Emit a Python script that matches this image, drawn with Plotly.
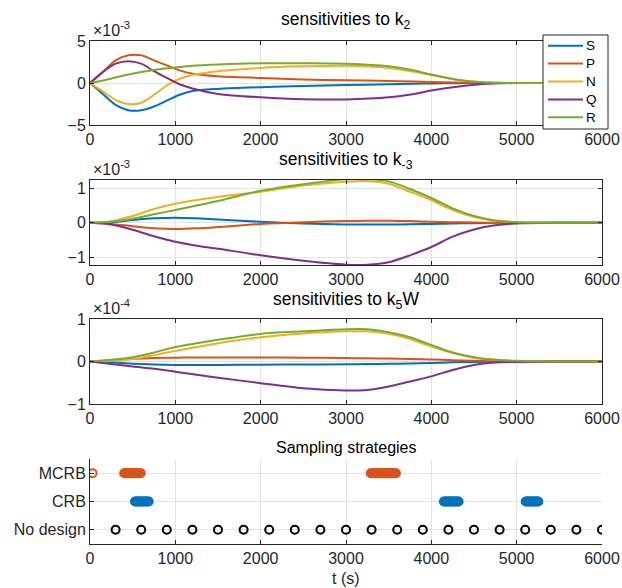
import plotly.graph_objects as go

W, H = 622, 588

# ---------------- data ----------------
series_names = ["S", "P", "N", "Q", "R"]
colors = ["#0072BD", "#D95319", "#EDB120", "#7E2F8E", "#77AC30"]

# panel 1: sensitivities to k2 (x 1e-3)
t1 = [0, 150, 300, 450, 600, 750, 900, 1050, 1200, 1500, 2000, 2500, 3000, 3500, 3800, 4000, 4300, 4600, 5000, 5500, 6000]
S1 = [0, -1.3, -2.6, -3.25, -3.25, -2.8, -2.1, -1.4, -0.95, -0.7, -0.5, -0.36, -0.25, -0.15, -0.09, -0.06, -0.02, 0, 0, 0, 0]
P1 = [0, 1.3, 2.7, 3.3, 3.3, 2.7, 2.1, 1.5, 1.1, 0.8, 0.6, 0.42, 0.33, 0.25, 0.18, 0.13, 0.06, 0.02, 0, 0, 0]
N1 = [0, -1.0, -2.0, -2.5, -2.35, -1.4, -0.3, 0.5, 0.95, 1.4, 1.8, 1.98, 2.05, 1.8, 1.35, 0.95, 0.38, 0.08, 0, 0, 0]
Q1 = [0, 1.3, 2.3, 2.6, 2.3, 1.4, 0.6, -0.15, -0.65, -1.3, -1.7, -1.93, -1.95, -1.7, -1.3, -0.9, -0.45, -0.12, 0, 0, 0]
R1 = [0, 0.3, 0.65, 1.0, 1.3, 1.55, 1.75, 1.9, 2.05, 2.2, 2.35, 2.35, 2.3, 2.0, 1.5, 1.0, 0.4, 0.1, 0, 0, 0]

# panels 2 and 3 time grid
t2 = [0, 250, 500, 750, 1000, 1250, 1500, 2000, 2500, 3000, 3250, 3500, 3750, 4000, 4250, 4500, 4750, 5000, 5500, 6000]

# panel 2: sensitivities to k-3 (x 1e-3)
S2 = [0, 0.02, 0.08, 0.13, 0.15, 0.13, 0.1, 0.03, -0.02, -0.05, -0.05, -0.05, -0.04, -0.03, -0.02, -0.01, 0, 0, 0, 0]
P2 = [0, -0.03, -0.1, -0.16, -0.18, -0.16, -0.12, -0.03, 0.02, 0.05, 0.06, 0.06, 0.05, 0.03, 0.02, 0.01, 0, 0, 0, 0]
N2 = [0, 0.05, 0.2, 0.4, 0.55, 0.66, 0.75, 0.9, 1.08, 1.19, 1.21, 1.13, 0.9, 0.66, 0.37, 0.17, 0.06, 0.02, 0, 0]
Q2 = [0, -0.05, -0.2, -0.39, -0.55, -0.66, -0.75, -0.94, -1.1, -1.21, -1.21, -1.14, -0.94, -0.7, -0.4, -0.19, -0.07, -0.02, 0, 0]
R2 = [0, 0.03, 0.12, 0.25, 0.37, 0.5, 0.63, 0.93, 1.12, 1.26, 1.27, 1.2, 0.98, 0.72, 0.42, 0.2, 0.07, 0.02, 0, 0]

# panel 3: sensitivities to k5W (x 1e-4)
S3 = [0, -0.02, -0.05, -0.07, -0.08, -0.08, -0.08, -0.075, -0.07, -0.065, -0.06, -0.055, -0.045, -0.035, -0.02, -0.01, -0.005, 0, 0, 0]
P3 = [0, 0.03, 0.06, 0.08, 0.09, 0.095, 0.095, 0.095, 0.09, 0.08, 0.075, 0.07, 0.06, 0.05, 0.03, 0.02, 0.01, 0, 0, 0]
N3 = [0, 0.02, 0.06, 0.15, 0.25, 0.34, 0.43, 0.57, 0.66, 0.71, 0.71, 0.65, 0.53, 0.35, 0.2, 0.09, 0.04, 0.01, 0, 0]
Q3 = [0, -0.06, -0.12, -0.17, -0.24, -0.31, -0.38, -0.51, -0.63, -0.68, -0.67, -0.59, -0.47, -0.35, -0.2, -0.08, -0.025, -0.01, 0, 0]
R3 = [0, 0.04, 0.1, 0.21, 0.34, 0.43, 0.51, 0.65, 0.71, 0.76, 0.76, 0.69, 0.57, 0.39, 0.21, 0.1, 0.04, 0.015, 0, 0]

# panel 4: sampling strategies
strategy_labels = ["No design", "CRB", "MCRB"]
mcrb_t = [30,
          400, 415, 430, 445, 460, 475, 490, 505, 520, 535, 550, 565, 580, 595,
          3290, 3305, 3320, 3335, 3350, 3365, 3380, 3395, 3410, 3425, 3440, 3455,
          3470, 3485, 3500, 3515, 3530, 3545, 3560, 3575, 3586]
crb_t = [527, 540, 555, 570, 585, 600, 615, 630, 645, 660, 675, 688,
         4147, 4160, 4175, 4190, 4205, 4220, 4235, 4250, 4265, 4280, 4295, 4310, 4320,
         5106, 5120, 5135, 5150, 5165, 5180, 5195, 5210, 5225, 5240, 5254]
nodesign_t = [300, 600, 900, 1200, 1500, 1800, 2100, 2400, 2700, 3000, 3300, 3600,
              3900, 4200, 4500, 4800, 5100, 5400, 5700, 6000]

x_ticks = [0, 1000, 2000, 3000, 4000, 5000, 6000]

# ---------------- figure ----------------
FONT = "Liberation Sans, Arial, Helvetica, sans-serif"
AX = "#262626"
GRID = "#e3e3e3"
TICK_SIZE = 16
TITLE_SIZE = 17.5
TITLE4_SIZE = 16

fig = go.Figure()

panels = [
    (t1, [S1, P1, N1, Q1, R1], "x", "y"),
    (t2, [S2, P2, N2, Q2, R2], "x2", "y2"),
    (t2, [S3, P3, N3, Q3, R3], "x3", "y3"),
]
for pi, (tt, ser, xa, ya) in enumerate(panels):
    for name, col, vals in zip(series_names, colors, ser):
        fig.add_trace(go.Scatter(
            x=tt, y=vals, mode="lines", name=name,
            line=dict(color=col, width=2, shape="spline", smoothing=0.8),
            xaxis=xa, yaxis=ya, showlegend=False))

for tt, lvl, col in [(nodesign_t, 1, "black"), (crb_t, 2, colors[0]), (mcrb_t, 3, colors[1])]:
    fig.add_trace(go.Scatter(x=tt, y=[lvl] * len(tt), mode="markers",
                             marker=dict(symbol="circle-open", size=8, color=col, line=dict(width=2)),
                             xaxis="x4", yaxis="y4", showlegend=False))

xdom = [90 / W, 602 / W]


def ydom(top, bot):
    return [1 - bot / H, 1 - top / H]


tickfont = dict(family=FONT, size=TICK_SIZE, color=AX)


def xax(anchor, mirror=True):
    return dict(domain=xdom, anchor=anchor, range=[0, 6000], tickvals=x_ticks,
                ticks="inside", ticklen=4, tickcolor=AX, showline=True, linecolor=AX,
                linewidth=1, mirror="ticks" if mirror else False, showgrid=True,
                gridcolor=GRID, zeroline=False, tickfont=tickfont, automargin=False)


def yax(anchor, dom, rng, tv, mirror=True):
    return dict(domain=dom, anchor=anchor, range=rng, tickvals=tv,
                ticks="inside", ticklen=4, tickcolor=AX, showline=True, linecolor=AX,
                linewidth=1, mirror="ticks" if mirror else False, showgrid=True,
                gridcolor=GRID, zeroline=False, tickfont=tickfont, automargin=False)


fig.update_layout(
    width=W, height=H, autosize=False,
    margin=dict(l=0, r=0, t=0, b=0),
    paper_bgcolor="white", plot_bgcolor="white",
    font=dict(family=FONT, size=TICK_SIZE, color=AX),
    xaxis=xax("y"),
    yaxis=yax("x", ydom(41, 125), [-5, 5], [-5, 0, 5]),
    xaxis2=xax("y2"),
    yaxis2=yax("x2", ydom(180, 265), [-1.22, 1.24], [-1, 0, 1]),
    xaxis3=xax("y3"),
    yaxis3=yax("x3", ydom(319, 404), [-1, 1], [-1, 0, 1]),
    xaxis4=xax("y4", mirror=False),
    yaxis4=dict(domain=ydom(459, 544), anchor="x4", range=[0.5, 3.5], tickvals=[1, 2, 3],
                ticktext=strategy_labels, ticks="inside", ticklen=4, tickcolor=AX,
                showline=True, linecolor=AX, linewidth=1, mirror=False, showgrid=True,
                gridcolor=GRID, zeroline=False, tickfont=tickfont, automargin=False),
    showlegend=False,
)

# legend box (drawn in paper space, like MATLAB's legend)
lg_left, lg_right, lg_top, lg_bot = 543, 608, 35, 129
fig.add_shape(type="rect", xref="paper", yref="paper",
              x0=lg_left / W, x1=lg_right / W, y0=1 - lg_bot / H, y1=1 - lg_top / H,
              fillcolor="white", line=dict(color=AX, width=1), layer="above")
for i, (name, col) in enumerate(zip(series_names, colors)):
    yc = 45.7 + i * 17.9
    fig.add_shape(type="line", xref="paper", yref="paper",
                  x0=548 / W, x1=583 / W, y0=1 - yc / H, y1=1 - yc / H,
                  line=dict(color=col, width=2), layer="above")
    fig.add_annotation(text=name, x=585 / W, y=1 - yc / H, xref="paper", yref="paper",
                       xanchor="left", yanchor="middle", showarrow=False, borderpad=0,
                       font=dict(family=FONT, size=13.5, color="black"))

cx = (xdom[0] + xdom[1]) / 2
titles = [
    ("sensitivities to k<sub>2</sub>", 21, TITLE_SIZE),
    ("sensitivities to k<sub>-3</sub>", 160, TITLE_SIZE),
    ("sensitivities to k<sub>5</sub>W", 300, TITLE_SIZE),
    ("Sampling strategies", 447, TITLE4_SIZE),
]
for txt, yc, fs in titles:
    fig.add_annotation(text=txt, x=cx, y=1 - yc / H, xref="paper", yref="paper",
                       xanchor="center", yanchor="middle", showarrow=False,
                       font=dict(family=FONT, size=fs, color="black"))

for txt, ytop in [("×10<sup>-3</sup>", 41), ("×10<sup>-3</sup>", 180), ("×10<sup>-4</sup>", 319)]:
    fig.add_annotation(text=txt, x=92 / W, y=1 - (ytop - 1) / H, xref="paper", yref="paper",
                       xanchor="left", yanchor="bottom", showarrow=False, borderpad=0,
                       font=dict(family=FONT, size=TICK_SIZE, color=AX))

fig.add_annotation(text="t (s)", x=cx, y=1 - 578 / H, xref="paper", yref="paper",
                   xanchor="center", yanchor="middle", showarrow=False,
                   font=dict(family=FONT, size=TICK_SIZE, color=AX))

fig.write_html("out.html", config={"displayModeBar": False},
               post_script="document.body.style.margin='0';document.body.style.overflow='hidden';")
